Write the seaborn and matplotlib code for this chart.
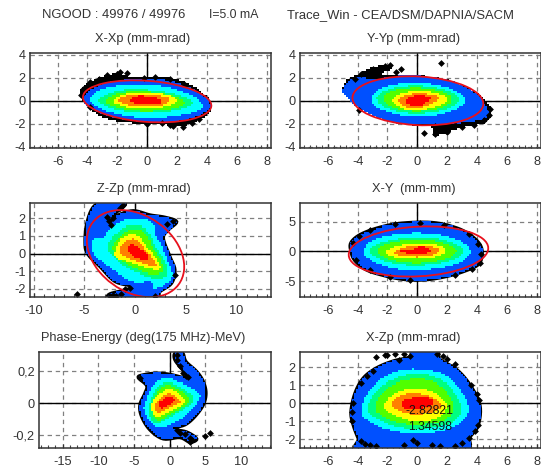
"""
Trace_Win phase space plots: six density panels drawn from contours read off the picture.
"""
import numpy as np
import matplotlib
matplotlib.use('Agg')
import matplotlib.pyplot as plt
from matplotlib.colors import ListedColormap
from matplotlib.patches import Ellipse
from matplotlib.path import Path
from matplotlib.ticker import MultipleLocator
import seaborn as sns

sns.set_style('white')
plt.rcParams['font.family'] = ['Liberation Sans', 'DejaVu Sans']

WIDTH, HEIGHT = 541, 468

titles = ['X-Xp (mm-mrad)', 'Y-Yp (mm-mrad)', 'Z-Zp (mm-mrad)', 'X-Y  (mm-mm)',
          'Phase-Energy (deg(175 MHz)-MeV)', 'X-Zp (mm-mrad)']

# contour outlines, one per density level, as (x, y) in the panel's units
xxp_black = [(-4.5, 0.6), (-4.4, 1.0), (-3.7, 1.7), (-2.8, 2.15), (-1.9, 2.4), (-1.3, 2.15), (-0.3, 2.0), (1, 2.05),
             (2, 1.8), (3, 1.3), (4, 0.3), (4.3, -0.4), (4, -1.2), (3.2, -1.8), (2.4, -2.15), (1.5, -2.1), (0.5, -2.0),
             (-1, -1.9), (-2.5, -1.6), (-3.5, -1.0), (-4.2, -0.2)]
xxp_blue = [(-4.2, 0.3), (-3.4, 1.2), (-2, 1.7), (0, 1.9), (1.5, 1.7), (3, 1.0), (4.1, 0), (4.1, -0.7), (3, -1.5),
            (1.5, -1.8), (0, -1.8), (-1.5, -1.6), (-3, -1.1), (-4, -0.4)]
xxp_cyan = [(-3.8, 0.2), (-3, 0.95), (-1.5, 1.35), (0, 1.35), (1.5, 1.1), (3, 0.4), (3.7, -0.4), (3, -1.0),
            (1.5, -1.35), (0, -1.45), (-1.5, -1.25), (-3, -0.7)]
xxp_green = [(-3.2, 0.1), (-2.3, 0.7), (-1, 0.95), (0.5, 0.85), (2, 0.5), (3, -0.1), (2.5, -0.6), (1, -0.95),
             (-0.5, -1.0), (-2, -0.75), (-2.9, -0.35)]
xxp_yellow = [(-2.2, 0.05), (-1.3, 0.6), (0, 0.7), (1.2, 0.5), (2, 0.05), (1.4, -0.4), (0.3, -0.6), (-1, -0.6),
              (-1.9, -0.3)]
xxp_orange = [(-1.9, 0.1), (-1, 0.5), (0.3, 0.5), (1.3, 0.25), (1.4, -0.1), (0.7, -0.4), (-0.5, -0.45), (-1.5, -0.25)]
xxp_red = [(-1.1, 0.1), (-0.5, 0.38), (0.3, 0.3), (0.9, 0.1), (0.8, -0.2), (0.2, -0.32), (-0.6, -0.25)]
xxp_dots_x = [-4.3, -3.8, -3.2, -2.7, -2.6, -2.0, -1.8, -1.35, -0.2, 0.5, 1.5, 2.5, 3.5, 3, 2.4, 2.5, 1.7, 1.5, 1, 0,
              -3.8, -4.4]
xxp_dots_y = [1.0, 1.6, 1.9, 2.2, 2.1, 2.35, 2.5, 2.4, 2.0, 2.1, 1.9, 1.5, -1.6, -1.9, -2.3, -1.9, -2.2, -2.1, -1.95,
              -2.0, -0.5, 0.5]

yyp_black = [(-5, 0.9), (-4.7, 1.8), (-3.9, 2.3), (-3.2, 2.8), (-1.8, 3.15), (-1.7, 2.7), (-2.4, 2.35), (-1.2, 2.2),
             (0, 2.2), (2, 1.8), (3.5, 1.0), (4.6, 0), (4.95, -1), (4.5, -1.9), (3, -2.3), (1.5, -2.95), (1, -2.95),
             (1, -2.3), (-0.5, -2.05), (-2, -1.7), (-3.5, -0.9), (-4.5, 0)]
yyp_blue = [(-5, 0.9), (-4.6, 1.7), (-3.8, 2.0), (-3, 1.85), (-2.3, 1.95), (-1, 2.15), (0.5, 2.1), (2.5, 1.6), (4, 0.5),
            (4.6, -0.5), (4.75, -1.3), (4, -1.7), (3, -1.9), (2, -2.0), (0.5, -2), (-1, -2), (-2.5, -1.5), (-4, -0.5),
            (-4.7, 0.2)]
yyp_cyan = [(-3.05, 0.3), (-2.5, 1), (-1.2, 1.45), (0.5, 1.5), (2, 1.1), (3, 0.4), (3.1, -0.2), (2.2, -0.9),
            (0.8, -1.3), (-0.8, -1.3), (-2.2, -0.8), (-2.9, -0.3)]
yyp_green = [(-2.7, 0.2), (-2, 0.9), (-0.7, 1.25), (0.8, 1.2), (2.2, 0.75), (2.75, 0.1), (2.1, -0.6), (0.7, -1.0),
             (-0.8, -1.0), (-2.1, -0.55)]
yyp_yellow = [(-1.6, 0.1), (-1.1, 0.6), (0, 0.8), (1.2, 0.65), (2, 0.15), (1.5, -0.35), (0.5, -0.7), (-0.6, -0.75),
              (-1.4, -0.35)]
yyp_orange = [(-1.25, 0.05), (-0.8, 0.4), (0, 0.6), (0.9, 0.5), (1.45, 0.2), (1, -0.2), (0.2, -0.55), (-0.7, -0.5)]
yyp_red = [(-0.75, 0), (-0.3, 0.35), (0.2, 0.45), (0.9, 0.2), (0.6, -0.1), (0.1, -0.4), (-0.5, -0.3)]
yyp_dots_x = [1.6, 0.47, -1.43, -1.1, -3.8, -3, -2.2, -1.8, -2.5, -4.2, 1.2, 2, 3, 3.8, 4.5, 4.8, 4.9, 2.5, 1.2, -3.9]
yyp_dots_y = [3.3, -2.78, 2.46, 2.8, 2.3, 2.8, 3, 3.15, 2.6, 1.9, -2.9, -2.7, -2.3, -2.1, -1.7, -1.2, -0.7, -2.1, -2.2,
              -0.8]

zzp_blue = [(-3.93, 2.75), (-2.13, 2.89), (-0.98, 2.85), (-1.3, 2.57), (-1.97, 2.28), (-2.46, 1.81), (-1.97, 1.94),
            (-1.64, 2.19), (-0.16, 2.43), (1.48, 2.19), (2.95, 2.06), (4.1, 1.81), (3.28, 1.34), (2.79, 0.87),
            (3.44, -0.17), (3.93, -0.92), (3.6, -1.68), (2.46, -2.15), (2.13, -2.47), (-0.16, -2.47), (-2.46, -2.47),
            (-2.46, -2.28), (-0.98, -2.06), (-0.16, -1.87), (-1.97, -1.58), (-3.44, -0.74), (-4.59, -0.08),
            (-4.92, 0.49), (-4.75, 1.72)]
zzp_cyan = [(-4.26, 0.77), (-3.11, 0.92), (-2.46, 1.43), (-0.82, 1.91), (0.98, 1.94), (1.8, 1.62), (1.97, 1.06),
            (2.46, 0.58), (3.28, -0.55), (3.6, -1.3), (2.79, -1.77), (1.8, -1.96), (1.48, -1.58), (-0.16, -1.58),
            (-2.13, -0.92), (-3.93, -0.08)]
zzp_green = [(-2.62, 0.49), (-1.97, 1.06), (-0.82, 1.53), (0.66, 1.58), (1.48, 1.06), (1.97, 0.4), (2.95, -0.55),
             (3.11, -1.21), (2.13, -1.4), (0.82, -1.21), (-0.98, -0.74), (-2.3, -0.08)]
zzp_yellow = [(-1.9, 0.21), (-1.31, 0.87), (-0.33, 1.11), (0.49, 0.96), (1.31, 0.3), (2.3, -0.55), (2.3, -0.89),
              (1.15, -0.83), (-0.66, -0.45), (-1.8, -0.26)]
zzp_orange = [(-1.48, 0.3), (-0.66, 0.77), (0.16, 0.81), (0.82, 0.4), (1.97, -0.55), (1.87, -0.74), (0.82, -0.58),
              (-0.66, -0.26), (-1.41, 0.02)]
zzp_red = [(-0.56, 0.4), (-0.16, 0.53), (0.49, 0.3), (1.15, 0.02), (1.31, -0.32), (0.49, -0.32), (-0.49, 0.02)]
zzp_dots_x = [-5.67, -2.2, -1.9, -2.5, -1.4, -1.0, -0.5, -2.6, -2.4, -2.2, -2.8, -1.2, -1.5, 3.7, 3.2, 3.9, 2]
zzp_dots_y = [-2.3, -2.37, -2.42, -2.4, -2.3, -2.0, -1.95, 1.85, 1.6, 2.0, 2.1, 2.75, 2.6, 1.85, 1.7, -1.2, -2.4]

xy_blue = [(-4.45, 1.5), (-3.8, 2.9), (-2.5, 4.1), (-1, 4.8), (1, 4.9), (2.5, 4.1), (3.5, 2.9), (4.2, 1.2), (4.35, -0.5),
           (4.1, -2.2), (3.2, -3.3), (2, -4.2), (0.5, -4.8), (-1, -4.7), (-2.5, -3.9), (-3.5, -3), (-4.2, -1.5),
           (-4.45, 0)]
xy_cyan = [(-3.6, 0), (-3.1, 1.7), (-1.8, 2.8), (0, 3.2), (1.8, 2.7), (3, 1.6), (3.55, 0), (3.1, -1.5), (2, -2.6),
           (0, -3.2), (-1.8, -2.8), (-3.1, -1.5)]
xy_green = [(-3.2, 0), (-2.6, 1.3), (-1.4, 2.1), (0, 2.4), (1.5, 2.1), (2.6, 1.2), (3.1, 0), (2.6, -1.2), (1.5, -2),
            (0, -2.4), (-1.5, -2.1), (-2.6, -1.2)]
xy_yellow = [(-2.05, 0), (-1.4, 0.9), (-0.3, 1.3), (0.9, 1.3), (1.7, 0.7), (1.85, -0.1), (1.2, -0.95), (0, -1.3),
             (-1.2, -1.1), (-1.9, -0.6)]
xy_orange = [(-1.45, 0), (-0.8, 0.7), (0.2, 1.05), (1, 0.8), (1.5, 0.2), (1.1, -0.6), (0.2, -0.95), (-0.8, -0.85),
             (-1.35, -0.5)]
xy_red = [(-1.1, 0.05), (-0.6, 0.35), (-0.2, 0.4), (0.2, 0.85), (0.75, 0.5), (0.85, 0), (0.3, -0.55), (-0.5, -0.4)]
xy_dots_x = [-4.3, -3.9, -3.2, -1.5, 0.2, 1.8, 3.5, 4.1, 4.3, 4.2, 3.7, 2.5, -0.5, -1.8, -3.2, -4.1]
xy_dots_y = [1.5, 2.7, 3.6, 4.7, 4.9, 4.5, 2.9, 1.2, -0.5, -2, -3, -3.9, -4.8, -4.3, -3.2, -1.5]

pe_blue = [(0.75, 0.3125), (1.82, 0.3125), (2.29, 0.26), (3.79, 0.198), (4.72, 0.135), (5.09, 0.0625), (4.72, -0.01),
           (3.55, -0.083), (2.15, -0.135), (0.28, -0.16), (2.38, -0.18), (3.79, -0.223), (2.85, -0.244), (1.45, -0.215),
           (-0.89, -0.223), (-2.76, -0.167), (-3.93, -0.083), (-4.16, -0.01), (-3.46, 0.0625), (-3.22, 0.11),
           (-4.39, 0.16), (-3.69, 0.177), (-1.82, 0.1875), (0.05, 0.18), (2.62, 0.156), (1.82, 0.208), (0.75, 0.27)]
pe_cyan = [(-3.22, 0.03), (-2.06, 0.125), (-0.42, 0.156), (1.21, 0.135), (3.32, 0.09), (4.25, 0.052), (3.79, 0),
           (2.38, -0.073), (0.51, -0.125), (-1.36, -0.156), (-2.76, -0.115), (-3.6, -0.04)]
pe_green = [(-2.66, 0.02), (-1.59, 0.104), (-0.19, 0.135), (1.21, 0.104), (2.85, 0.0625), (3.32, 0.02), (1.92, -0.04),
            (-0.42, -0.098), (-1.82, -0.13), (-2.85, -0.073)]
pe_yellow = [(-2.52, 0), (-1.36, 0.0625), (0.05, 0.09), (1.45, 0.052), (2.15, 0.006), (0.51, -0.04), (-1.36, -0.083),
             (-2.29, -0.073)]
pe_orange = [(-2.06, -0.01), (-1.12, 0.04), (0.05, 0.0625), (1.21, 0.03), (1.45, 0.006), (0.05, -0.027), (-1.36, -0.056),
             (-1.92, -0.048)]
pe_red = [(-1.59, -0.006), (-0.89, 0.027), (0.05, 0.042), (0.75, 0.02), (0.05, -0.006), (-1.12, -0.03)]
pe_dots_x = [5.65, 4.95, 1, 1.5, 2.2, 2.8, 3.2, 2.9, 1.1, 1, 1.5, 1.9, 2.3, 2.6, -4.2]
pe_dots_y = [-0.185, -0.208, -0.17, -0.185, -0.195, -0.215, -0.23, -0.24, 0.3, 0.27, 0.23, 0.19, 0.17, 0.165, 0.16]

xzp_blue = [(-4.3, -1.2), (-4.45, -0.47), (-4.18, 0.56), (-3.62, 1.4), (-2.73, 1.96), (-1.61, 2.34), (-0.49, 2.56),
            (-0.27, 2.85), (1.3, 2.85), (1.52, 2.43), (2.64, 1.87), (3.53, 1.03), (4.2, -0.09), (4.09, -1.21),
            (3.53, -1.87), (2.86, -2.6), (-3.62, -2.6), (-3.96, -1.96)]
xzp_cyan = [(-3.74, -0.47), (-3.4, 0.47), (-2.62, 1.21), (-1.28, 1.78), (0.18, 1.87), (1.74, 1.59), (2.86, 0.75),
            (3.42, -0.28), (2.98, -1.03), (1.74, -1.5), (-0.04, -1.68), (-1.83, -1.5), (-3.18, -1.03)]
xzp_green = [(-3.29, -0.37), (-2.95, 0.47), (-2.06, 1.12), (-0.94, 1.5), (0.4, 1.59), (1.74, 1.21), (2.64, 0.37),
             (2.91, -0.47), (2.19, -1.12), (0.4, -1.4), (-1.39, -1.31), (-2.73, -0.84)]
xzp_yellow = [(-2.17, 0), (-1.5, 0.56), (-0.49, 0.8), (0.63, 0.75), (1.52, 0.37), (1.97, -0.19), (1.3, -0.84),
              (-0.04, -0.99), (-1.28, -0.75), (-2.06, -0.37)]
xzp_orange = [(-1.72, 0), (-1.05, 0.47), (-0.04, 0.56), (0.85, 0.37), (1.63, -0.09), (1.07, -0.47), (-0.27, -0.62),
              (-1.28, -0.37)]
xzp_red = [(-1.05, 0.06), (-0.49, 0.28), (0.63, 0.37), (1.07, 0), (0.4, -0.24), (-0.72, -0.28)]
xzp_dots_x = [-2.8, -2.2, -2, -1.5, -1.2, -0.9, -0.5, 1.3, 1.7, 2.5, 2.0, -3.8, -3.5, -3.2, -2.8, -0.3, 2.5, 3, 3.5,
              3.9, 4.1, -4.35, -4.4, -4.3, 4.15, 4, 3.6, -3.8, -3.4, -3, -0.9, 0, 1, 1.5]
xzp_dots_y = [2.55, 2.7, 2.65, 2.75, 2.4, 2.75, 2.6, 2.75, 2.6, 2.2, 2.45, -2.1, -2.25, -2.3, -2.35, -2.05, -2.35, -2.2,
              -1.9, -1.55, -1.2, -1, -0.5, 0, 0.2, 0.5, 1, 1.1, 1.5, 1.8, -2.3, -2.2, -2.3, -2.35]

# rms ellipses: centre x, centre y, width, height, angle
xxp_ellipse = (0, -0.05, 8.64, 3.56, -5.9)
yyp_ellipse = (0.04, 0, 8.8, 4.22, -4.3)
zzp_ellipse = (0.05, 0, 9.74, 4.64, -11.4)
xy_ellipse = (0.08, 0, 9.64, 8.18, 26.7)

xticks_mm = [-6, -4, -2, 0, 2, 4, 6, 8]
xticks_z = [-10, -5, 0, 5, 10]
xticks_phase = [-15, -10, -5, 0, 5, 10]
yticks_xp = [-4, -2, 0, 2, 4]
yticks_zp = [-2, -1, 0, 1, 2]
yticks_y = [-5, 0, 5]
yticks_energy = [-0.2, 0, 0.2]
ylabels_energy = ['-0,2', '0', '0,2']

level_colors = ['#0050ff', '#00ffff', '#00ff80', '#50ff00', '#ffff00', '#ff8000', '#ff0000']


def smooth(points, steps=6):
    """Closed Catmull-Rom curve through the outline points."""
    p = np.asarray(points, dtype=float)
    out = []
    for t in np.linspace(0, 1, steps, endpoint=False):
        out.append(0.5 * (2 * p + (np.roll(p, -1, axis=0) - np.roll(p, 1, axis=0)) * t
                          + (2 * np.roll(p, 1, axis=0) - 5 * p + 4 * np.roll(p, -1, axis=0)
                             - np.roll(p, -2, axis=0)) * t ** 2
                          + (-np.roll(p, 1, axis=0) + 3 * p - 3 * np.roll(p, -1, axis=0)
                             + np.roll(p, -2, axis=0)) * t ** 3))
    return np.stack(out, axis=1).reshape(-1, 2)


def fill_blocky(ax, pts, color, zorder, cell_px=2):
    """Fill an outline on a coarse cell grid, the way the density map is binned."""
    bbox = ax.get_position()
    x0, x1 = ax.get_xlim()
    y0, y1 = ax.get_ylim()
    nx = int(bbox.width * WIDTH / cell_px)
    ny = int(bbox.height * HEIGHT / cell_px)
    xe = np.linspace(x0, x1, nx + 1)
    ye = np.linspace(y0, y1, ny + 1)
    xc, yc = np.meshgrid((xe[:-1] + xe[1:]) / 2, (ye[:-1] + ye[1:]) / 2)
    inside = Path(pts).contains_points(np.column_stack([xc.ravel(), yc.ravel()])).reshape(xc.shape)
    ax.pcolormesh(xe, ye, np.ma.masked_where(~inside, inside.astype(float)), cmap=ListedColormap([color]),
                  zorder=zorder)


def draw_levels(ax, blue, cyan, green, yellow, orange, red, black=None):
    """Fill the density levels from the outside in."""
    if black is not None:
        fill_blocky(ax, smooth(black), 'black', 3)
    pts = smooth(blue)
    if black is None:
        ax.fill(pts[:, 0], pts[:, 1], facecolor='none', edgecolor='black', lw=2.4, zorder=3)
    fill_blocky(ax, pts, level_colors[0], 3.1)
    # the lime band sits between the spring green outline and the yellow one
    g = smooth(green)
    lime = g.mean(axis=0) + 0.84 * (g - g.mean(axis=0))
    bands = [smooth(cyan), g, lime, smooth(yellow), smooth(orange), smooth(red)]
    for i, (pts, col) in enumerate(zip(bands, level_colors[1:])):
        fill_blocky(ax, pts, col, 4 + i * 0.1)


def setup_axes(rect, xlim, ylim, xticks, yticks, xminor, ylabels=None):
    left, top, right, bottom = rect
    ax = fig.add_axes([left / WIDTH, 1 - bottom / HEIGHT, (right - left) / WIDTH, (bottom - top) / HEIGHT])
    ax.set_xlim(xlim)
    ax.set_ylim(ylim)
    ax.set_xticks(xticks)
    ax.set_xticklabels([str(t) for t in xticks])
    ax.set_yticks(yticks)
    ax.set_yticklabels(ylabels if ylabels else [str(t) for t in yticks])
    ax.xaxis.set_minor_locator(MultipleLocator(xminor))
    ax.tick_params(axis='x', which='major', direction='in', length=3, width=0.9, color='#333333', pad=6,
                   labelsize=9.2, labelcolor='#333333', bottom=True)
    ax.tick_params(axis='x', which='minor', direction='in', length=2, width=0.8, color='#444444', bottom=True)
    ax.tick_params(axis='y', which='major', length=0, pad=3, labelsize=9.2, labelcolor='#333333')
    ax.grid(True, which='major', color='#808080', lw=0.9, linestyle=(0, (3.5, 3)), zorder=1)
    ax.set_axisbelow(True)
    ax.axhline(0, color='black', lw=1, zorder=2)
    ax.axvline(0, color='black', lw=1, zorder=2)
    for side, spine in ax.spines.items():
        spine.set_visible(True)
        spine.set_color('#333333')
        spine.set_linewidth(1.1)
        spine.set_zorder(8)
    return ax


def draw_dots(ax, x, y):
    sns.scatterplot(x=x, y=y, marker='D', s=12, color='black', linewidth=0, ax=ax, zorder=5, clip_on=True, legend=False)


def draw_ellipse(ax, params):
    cx, cy, w, h, angle = params
    ax.add_patch(Ellipse((cx, cy), w, h, angle=angle, fill=False, edgecolor='#e8101c', lw=1.3, zorder=6))


fig = plt.figure(figsize=(WIDTH / 100, HEIGHT / 100), dpi=100, facecolor='white')

# X-Xp
ax1 = setup_axes((30, 53, 271, 148), (-7.85, 8.3), (-4.1, 4.15), xticks_mm, yticks_xp, 0.4)
draw_levels(ax1, xxp_blue, xxp_cyan, xxp_green, xxp_yellow, xxp_orange, xxp_red, black=xxp_black)
draw_dots(ax1, xxp_dots_x, xxp_dots_y)
draw_ellipse(ax1, xxp_ellipse)

# Y-Yp
ax2 = setup_axes((300, 53, 541, 148), (-7.87, 8.3), (-4.1, 4.15), xticks_mm, yticks_xp, 0.4)
draw_levels(ax2, yyp_blue, yyp_cyan, yyp_green, yyp_yellow, yyp_orange, yyp_red, black=yyp_black)
draw_dots(ax2, yyp_dots_x, yyp_dots_y)
draw_ellipse(ax2, yyp_ellipse)

# Z-Zp
ax3 = setup_axes((30, 203, 271, 297), (-10.35, 13.4), (-2.46, 2.87), xticks_z, yticks_zp, 1)
draw_levels(ax3, zzp_blue, zzp_cyan, zzp_green, zzp_yellow, zzp_orange, zzp_red)
draw_dots(ax3, zzp_dots_x, zzp_dots_y)
draw_ellipse(ax3, zzp_ellipse)

# X-Y
ax4 = setup_axes((300, 203, 541, 297), (-7.87, 8.3), (-7.7, 8.2), xticks_mm, yticks_y, 0.4)
draw_levels(ax4, xy_blue, xy_cyan, xy_green, xy_yellow, xy_orange, xy_red)
draw_dots(ax4, xy_dots_x, xy_dots_y)
draw_ellipse(ax4, xy_ellipse)

# Phase-Energy
ax5 = setup_axes((39, 352, 271, 447.5), (-18.3, 14.2), (-0.277, 0.32), xticks_phase, yticks_energy, 1,
                 ylabels=ylabels_energy)
draw_levels(ax5, pe_blue, pe_cyan, pe_green, pe_yellow, pe_orange, pe_red)
draw_dots(ax5, pe_dots_x, pe_dots_y)

# X-Zp
ax6 = setup_axes((300, 352, 541, 447.5), (-7.87, 8.3), (-2.45, 2.84), xticks_mm, yticks_zp, 0.4)
draw_levels(ax6, xzp_blue, xzp_cyan, xzp_green, xzp_yellow, xzp_orange, xzp_red)
draw_dots(ax6, xzp_dots_x, xzp_dots_y)

# titles and header, placed by pixel position
title_pos = [(143, 38.7), (414, 38.7), (143.5, 189), (413.7, 189), (142.8, 338.3), (413.7, 338.3)]
for name, (px, py) in zip(titles, title_pos):
    fig.text(px / WIDTH, 1 - py / HEIGHT, name, ha='center', va='center', fontsize=9.2, color='#333333')
fig.text(41.7 / WIDTH, 1 - 14.7 / HEIGHT, 'NGOOD : 49976 / 49976', ha='left', va='center', fontsize=9.4, color='#333333')
fig.text(209 / WIDTH, 1 - 14.7 / HEIGHT, 'I=5.0 mA', ha='left', va='center', fontsize=8.8, color='#333333')
fig.text(287 / WIDTH, 1 - 14.7 / HEIGHT, 'Trace_Win - CEA/DSM/DAPNIA/SACM', ha='left', va='center', fontsize=9.4,
         color='#333333')
fig.text(453 / WIDTH, 1 - 411.5 / HEIGHT, '-2.82821', ha='right', va='center', fontsize=8.8, color='#111111', zorder=9)
fig.text(452 / WIDTH, 1 - 426.5 / HEIGHT, '1.34598', ha='right', va='center', fontsize=8.8, color='#111111', zorder=9)

fig.savefig('out.png', dpi=100, facecolor='white')
